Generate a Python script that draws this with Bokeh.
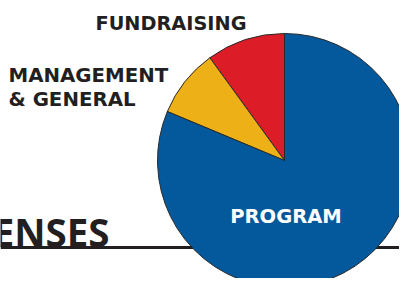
import numpy as np
from bokeh.plotting import figure
from bokeh.models import Range1d
from bokeh.core.properties import value
from bokeh.embed import file_html
from bokeh.resources import INLINE

# data
categories = ["FUNDRAISING", "MANAGEMENT & GENERAL", "PROGRAM"]
shares = [10.0, 8.7, 81.3]
colors = ["#DC1C27", "#EDB117", "#04599C"]

W, H = 399, 278
p = figure(width=W, height=H, output_backend="svg", toolbar_location=None,
           x_range=Range1d(0, W), y_range=Range1d(0, H), min_border=0)
p.axis.visible = False
p.grid.visible = False
p.outline_line_color = None
p.background_fill_color = "white"
p.border_fill_color = "white"

# title rule
p.line(x=[0, W], y=[31, 31], line_color="#231F20", line_width=3)

# pie
vals = np.array(shares)
fr = vals / vals.sum()
ends = np.pi / 2 + 2 * np.pi * np.cumsum(fr)
starts = np.concatenate([[np.pi / 2], ends[:-1]])
cx, cy, r = 284, 118, 127
p.wedge(x=[cx] * len(vals), y=[cy] * len(vals), radius=r, radius_units="screen",
        start_angle=list(starts), end_angle=list(ends), direction="anticlock",
        fill_color=colors, line_color="#2a2a2a", line_width=1)

lab_font = value("DejaVu Sans")
dark = "#231F20"
p.text(x=[170.5], y=[255], text=["FUNDRAISING"], text_font=lab_font, text_font_style="bold",
       text_font_size="19.3px", text_color=dark, text_align="center", text_baseline="alphabetic")
p.text(x=[8, 8], y=[203, 179], text=["MANAGEMENT", "& GENERAL"], text_font=lab_font,
       text_font_style="bold", text_font_size="19.8px", text_color=dark,
       text_align="left", text_baseline="alphabetic")
p.text(x=[285.5], y=[62], text=["PROGRAM"], text_font=lab_font, text_font_style="bold",
       text_font_size="19.5px", text_color="white", text_align="center", text_baseline="alphabetic")
p.text(x=[109], y=[47], text=["EXPENSES"], text_font=value("Open Sans"), text_font_style="bold",
       text_font_size="38.5px", text_color=dark, text_align="right", text_baseline="alphabetic")

open("out.html", "w").write(file_html(p, INLINE))
